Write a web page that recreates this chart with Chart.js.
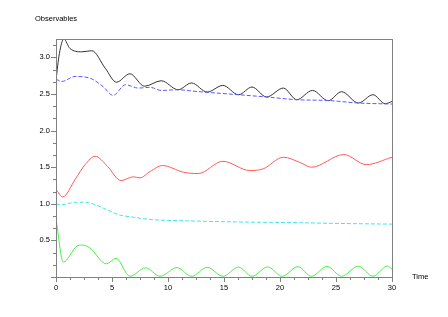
<!DOCTYPE html>
<html>
<head>
<meta charset="utf-8">
<script src="https://cdn.jsdelivr.net/npm/chart.js@4/dist/chart.umd.min.js"></script>
<style>
    body { margin: 0; background: #fff; }
    #wrap { width: 448px; height: 317px; }
</style>
</head>
<body>
<div id="wrap"><canvas id="chartObs" width="448" height="317"></canvas></div>
<script>
// Black curve (solid)
const blackT = [0, 0.3, 0.7, 1.25, 2.3, 3.2, 4.4, 5.4, 6.6, 7.9, 9.4, 10.9, 12.1, 13.5, 14.9, 16.3, 17.5, 18.8, 20.3, 21.5, 22.9, 24.3, 25.5, 27.0, 28.3, 29.4, 30];
const blackY = [2.69, 3.05, 3.25, 3.12, 3.075, 3.09, 2.85, 2.66, 2.775, 2.605, 2.68, 2.557, 2.65, 2.526, 2.616, 2.489, 2.594, 2.458, 2.58, 2.421, 2.548, 2.407, 2.53, 2.376, 2.489, 2.366, 2.398];

// Blue curve (dashed)
const blueT = [0, 0.5, 1.7, 3.0, 4.2, 5.1, 6.2, 7.35, 8.4, 9.4, 10.9, 12.5, 16.3, 18.8, 21.5, 24.3, 27.0, 30];
const blueY = [2.703, 2.67, 2.738, 2.717, 2.60, 2.48, 2.625, 2.58, 2.59, 2.548, 2.557, 2.534, 2.489, 2.458, 2.421, 2.41, 2.376, 2.362];

// Red curve (solid)
const redT = [0, 0.6, 1.7, 2.6, 3.5, 4.6, 5.8, 6.9, 7.5, 8.4, 9.5, 11.4, 12.7, 14.9, 17.3, 18.5, 20.3, 21.8, 22.8, 25.7, 27.7, 30];
const redY = [1.195, 1.093, 1.33, 1.535, 1.648, 1.51, 1.317, 1.368, 1.354, 1.44, 1.522, 1.43, 1.413, 1.58, 1.454, 1.477, 1.635, 1.563, 1.499, 1.672, 1.535, 1.635];

// Cyan curve (dashed)
const cyanT = [0, 0.4, 1.85, 2.9, 4.5, 5.6, 6.9, 8.4, 12, 16, 21.8, 25, 30];
const cyanY = [1.0, 0.986, 1.022, 1.014, 0.922, 0.85, 0.817, 0.786, 0.766, 0.752, 0.741, 0.732, 0.722];

// Green curve (solid)
const greenT = [0, 0.65, 1.85, 2.3, 3.0, 4.5, 5.36, 6.6, 8.0, 9.3, 10.8, 12.1, 13.5, 14.9, 16.3, 17.5, 18.9, 20.2, 21.6, 22.8, 24.2, 25.5, 27.0, 28.3, 29.6, 30];
const greenY = [0.8, 0.204, 0.42, 0.436, 0.40, 0.18, 0.255, 0.01, 0.125, 0.01, 0.128, 0.01, 0.132, 0.01, 0.135, 0.01, 0.138, 0.01, 0.142, 0.01, 0.145, 0.01, 0.148, 0.01, 0.15, 0.105];

// Axes
const xMin = 0, xMax = 30, xMajor = 5, xMinor = 1.25;
const yMin = 0, yMax = 3.25, yMajor = 0.5, yMinor = 0.5 / 3;

const fontFamily = "'Liberation Sans', Arial, sans-serif";
const axisColor = '#808080';

const toPoints = (ts, ys) => ts.map((t, i) => ({ x: t, y: ys[i] }));

const serie = (ts, ys, color, dash) => ({
    data: toPoints(ts, ys),
    borderColor: color,
    borderWidth: 1,
    borderDash: dash || [],
    pointRadius: 0,
    fill: false,
    cubicInterpolationMode: 'monotone'
});

// Ticks (major + minor) and frame, drawn off the scales
const framePlugin = {
    id: 'frame',
    afterDraw(chart) {
        const { ctx, chartArea: a, scales } = chart;
        ctx.save();
        ctx.strokeStyle = axisColor;
        ctx.lineWidth = 1;
        ctx.strokeRect(a.left + 0.5, a.top + 0.5, a.right - a.left, a.bottom - a.top);

        ctx.beginPath();
        for (let i = 0; yMin + i * yMinor <= yMax + 1e-9; i++) {
            const v = yMin + i * yMinor;
            const py = Math.round(scales.y.getPixelForValue(v)) + 0.5;
            const len = (i % 3 === 0) ? 5 : 3;
            ctx.moveTo(a.left - len, py);
            ctx.lineTo(a.left, py);
        }
        for (let i = 0; xMin + i * xMinor <= xMax + 1e-9; i++) {
            const v = xMin + i * xMinor;
            const px = Math.round(scales.x.getPixelForValue(v)) + 0.5;
            const len = (i % 4 === 0) ? 5 : 3;
            ctx.moveTo(px, a.bottom);
            ctx.lineTo(px, a.bottom + len);
        }
        ctx.stroke();

        // axis names
        ctx.fillStyle = '#000';
        ctx.font = '7.5px ' + fontFamily;
        ctx.textBaseline = 'middle';
        ctx.textAlign = 'left';
        ctx.fillText('Observables', 35, 19);
        ctx.fillText('Time', 412, 277);
        ctx.restore();
    }
};

const ctx = document.getElementById('chartObs').getContext('2d');
const chartObs = new Chart(ctx, {
    type: 'line',
    data: {
        datasets: [
            serie(blueT, blueY, '#5a5aff', [4, 2]),
            serie(blackT, blackY, '#333333'),
            serie(redT, redY, '#ff5a5a'),
            serie(cyanT, cyanY, '#3ee6f0', [4, 2]),
            serie(greenT, greenY, '#46f046')
        ]
    },
    options: {
        responsive: false,
        animation: false,
        layout: { padding: { top: 39, right: 56, left: 0, bottom: 0 } },
        plugins: {
            legend: { display: false },
            tooltip: { enabled: false }
        },
        scales: {
            x: {
                type: 'linear',
                min: xMin,
                max: xMax,
                afterFit: (s) => { s.height = 40; },
                grid: { display: false, drawTicks: false },
                border: { color: axisColor, width: 1 },
                ticks: {
                    stepSize: xMajor,
                    padding: 6,
                    maxRotation: 0,
                    color: '#000',
                    font: { family: fontFamily, size: 7.5 },
                    callback: (v) => (v % xMajor === 0 ? String(v) : '')
                }
            },
            y: {
                type: 'linear',
                min: yMin,
                max: yMax,
                afterFit: (s) => { s.width = 56; },
                grid: { display: false, drawTicks: false },
                border: { color: axisColor, width: 1 },
                ticks: {
                    stepSize: yMajor,
                    padding: 6,
                    color: '#000',
                    font: { family: fontFamily, size: 7.5 },
                    callback: (v) => (v > 0 && Math.abs(v / yMajor - Math.round(v / yMajor)) < 1e-6 ? v.toFixed(1) : '')
                }
            }
        }
    },
    plugins: [framePlugin]
});
</script>
</body>
</html>
